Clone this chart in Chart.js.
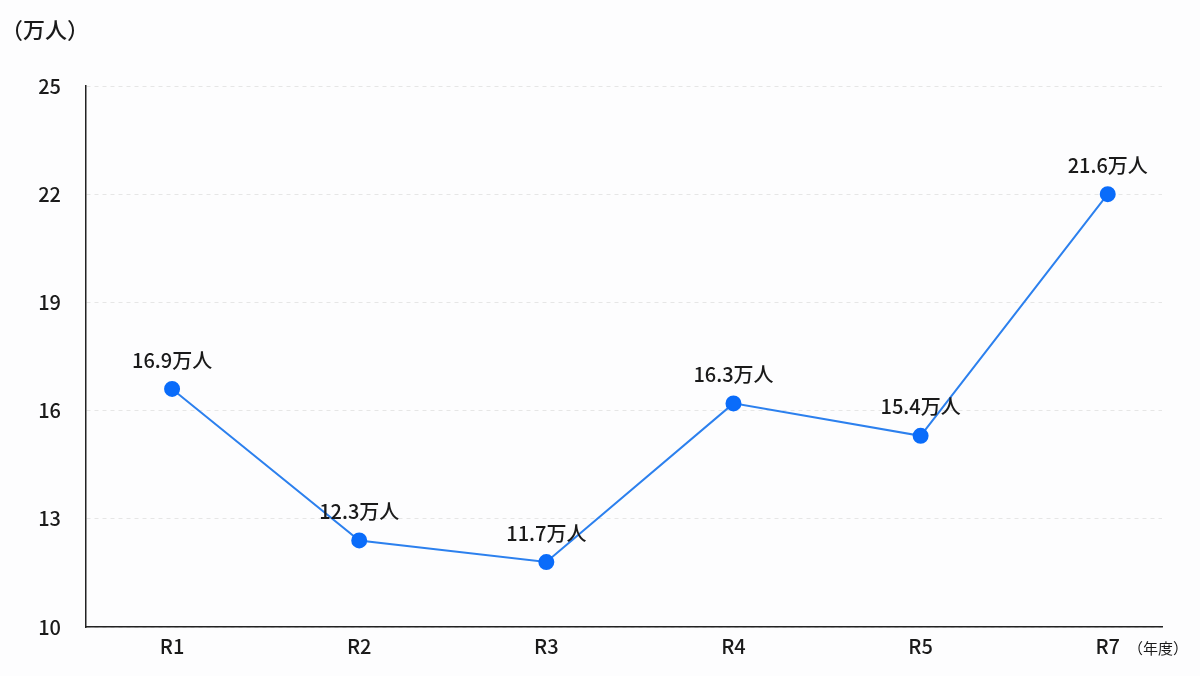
<!DOCTYPE html>
<html>
<head>
<meta charset="utf-8">
<script src="https://cdn.jsdelivr.net/npm/chart.js@4"></script>
<style>
  html, body { margin:0; padding:0; background:#fdfdfe; }
  #wrap { width:1200px; height:676px; position:relative; }
</style>
</head>
<body>
<div id="wrap"><canvas id="chart" width="1200" height="676"></canvas></div>
<script>
// data
const years = ["R1", "R2", "R3", "R4", "R5", "R7"];
const visitors = [16.6, 12.4, 11.8, 16.2, 15.3, 22.0];
const pointLabels = ["16.9万人", "12.3万人", "11.7万人", "16.3万人", "15.4万人", "21.6万人"];
const yTicks = [10, 13, 16, 19, 22, 25];

const FONT = "'Noto Sans CJK JP', 'Noto Sans', sans-serif";

// axis unit texts + value labels above points
const extras = {
    id: "extras",
    afterDatasetsDraw(chart){
        const ctx = chart.ctx;
        ctx.save();
        ctx.fillStyle = "#1a1a1a";
        ctx.font = "500 20px " + FONT;
        ctx.textAlign = "center";
        ctx.textBaseline = "middle";
        chart.getDatasetMeta(0).data.forEach((pt, i) => {
            ctx.fillText(pointLabels[i], pt.x, pt.y - 29);
        });
        ctx.textAlign = "left";
        ctx.font = "500 22px " + FONT;
        ctx.fillText("（万人）", 1, 30);
        ctx.font = "15px " + FONT;
        ctx.fillText("（年度）", 1128, 648);
        ctx.restore();
    }
};

new Chart(document.getElementById("chart"), {
    type: "line",
    data: {
        datasets: [{
            data: visitors.map((v, i) => ({x: i, y: v})),
            borderColor: "#2c80ee",
            borderWidth: 2,
            backgroundColor: "#0a6cfa",
            pointBackgroundColor: "#0a6cfa",
            pointBorderColor: "#0a6cfa",
            pointRadius: 7,
            tension: 0
        }]
    },
    options: {
        responsive: false,
        animation: false,
        layout: { padding: { left: 0, right: 38, top: 86, bottom: 0 } },
        plugins: { legend: { display: false }, tooltip: { enabled: false } },
        scales: {
            x: {
                type: "linear",
                min: -0.46,
                max: 5.29,
                afterBuildTicks: s => { s.ticks = years.map((y, i) => ({value: i})); },
                afterFit: s => { s.height = 49; },
                grid: { display: false, drawTicks: false },
                border: { color: "#222", width: 1.5 },
                ticks: {
                    padding: 7,
                    color: "#1a1a1a",
                    font: { size: 20, family: FONT, weight: 500 },
                    callback: v => years[v] ?? ""
                }
            },
            y: {
                min: 10,
                max: 25,
                afterBuildTicks: s => { s.ticks = yTicks.map(v => ({value: v})); },
                afterFit: s => { s.width = 86; },
                grid: { color: "#e6e6e6", drawTicks: false },
                border: { color: "#222", width: 1.5, dash: [4, 4] },
                ticks: {
                    padding: 25,
                    color: "#1a1a1a",
                    font: { size: 20, family: FONT, weight: 500 }
                }
            }
        }
    },
    plugins: [extras]
})
</script>
</body>
</html>
